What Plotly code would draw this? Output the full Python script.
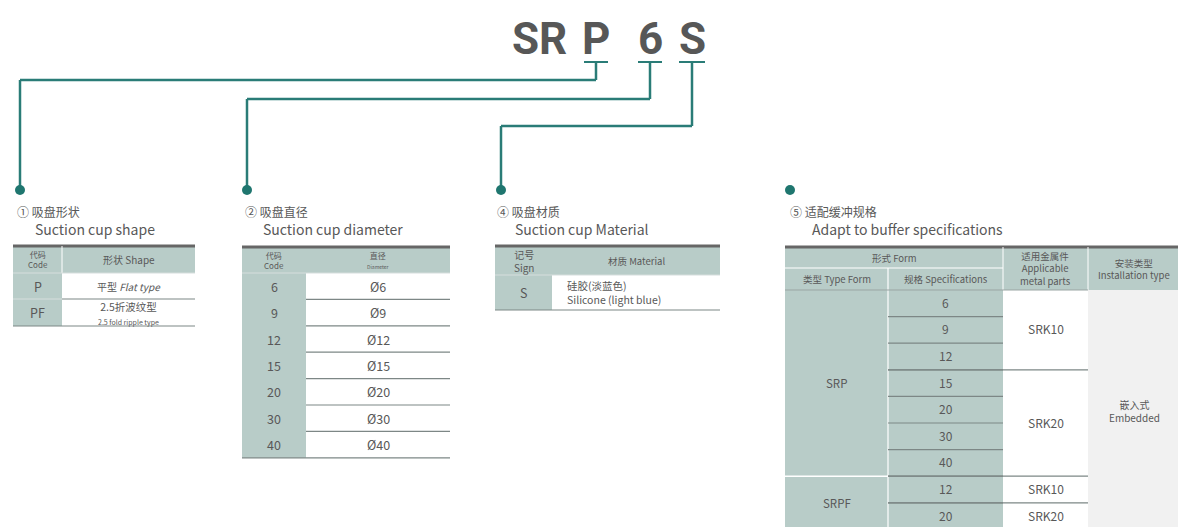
import plotly.graph_objects as go

# ---------------- data ----------------
model_parts = ["SR", "P", "6", "S"]
model_part_x = [539, 596, 650, 692]

shape_codes = ["P", "PF"]
shape_names = ["平型 <i>Flat type</i>",
               "2.5折波纹型<br><span style='font-size:7px'>2.5 fold ripple type</span>"]

diam_codes = ["6", "9", "12", "15", "20", "30", "40"]
diam_labels = ["Ø6", "Ø9", "Ø12", "Ø15", "Ø20", "Ø30", "Ø40"]

material_codes = ["S"]
material_names = ["硅胶(淡蓝色)<br>Silicone (light blue)"]

buffer_types = ["SRP", "SRPF"]
buffer_specs = [["6", "9", "12", "15", "20", "30", "40"], ["12", "20"]]
buffer_parts = [[("SRK10", 3), ("SRK20", 4)], [("SRK10", 1), ("SRK20", 1)]]
install_type = "嵌入式<br>Embedded"

section_titles = [("① 吸盘形状", "Suction cup shape"),
                  ("② 吸盘直径", "Suction cup diameter"),
                  ("④ 吸盘材质", "Suction cup Material"),
                  ("⑤ 适配缓冲规格", "Adapt to buffer specifications")]

# ---------------- style ----------------
W, H = 1178, 527
TEAL = "#2a7c77"
HDR = "#b8ccc8"
TXT = "#585858"
DARK = "#666666"
ROWLINE = "#7d8786"
FONT = "Noto Sans CJK SC"

shapes, ann = [], []


def rect(x0, y0, x1, y1, color):
    shapes.append(dict(type="rect", xref="x", yref="y", x0=x0, y0=y0, x1=x1, y1=y1,
                       fillcolor=color, line=dict(width=0), layer="below"))


def seg(x0, y0, x1, y1, color, w):
    shapes.append(dict(type="line", xref="x", yref="y", x0=x0, y0=y0, x1=x1, y1=y1,
                       line=dict(color=color, width=w)))


def text(x, y, s, size, color=TXT, anchor="center", family=FONT, bold=False):
    if bold:
        s = "<b>" + s + "</b>"
    ann.append(dict(x=x, y=y, xref="x", yref="y", text=s, showarrow=False,
                    xanchor=anchor, yanchor="middle", align=anchor if anchor != "center" else "center",
                    font=dict(size=size, color=color, family=family)))


# ---------------- model code title ----------------
for part, px in zip(model_parts, model_part_x):
    text(px, 39, part, 44, color="#575757", family="Roboto", bold=True)

# connectors
brackets = [(584, 608), (638, 662), (679, 705)]
levels = [80, 99, 126]
dots = [20, 247, 501]
for (bx0, bx1), lv, dx in zip(brackets, levels, dots):
    bc = (bx0 + bx1) / 2
    seg(bx0, 62, bx1, 62, TEAL, 2)
    seg(bc, 62, bc, lv, TEAL, 2.5)
    seg(bc, lv, dx, lv, TEAL, 2.5)
    seg(dx, lv, dx, 190, TEAL, 2.5)
DOT_X = dots + [790]
for dx in DOT_X:
    shapes.append(dict(type="circle", xref="x", yref="y", x0=dx - 5, x1=dx + 5, y0=185, y1=195,
                       fillcolor="#1f766f", line=dict(width=0)))

# section titles
title_x = [15, 243, 495, 788]
for (cn, en), tx in zip(section_titles, title_x):
    text(tx, 211, cn, 12, anchor="left")
    text(tx + 18 + (4 if tx == 788 else 0), 229, en, 14, anchor="left")

# ---------------- table 1: shape ----------------
x0, xc, x1 = 13, 62, 195
ys = [246, 273, 299, 326]
rect(x0, ys[0], x1, ys[1], HDR)
rect(x0, ys[1], xc, ys[-1], HDR)
seg(x0, ys[0], x1, ys[0], DARK, 3)
seg(x0, ys[-1], x1, ys[-1], ROWLINE, 1.2)
seg(xc, ys[0], xc, ys[1], "#ffffff", 1)
seg(x0, ys[1], x1, ys[1], "#d6dedd", 1)
for i in range(1, len(shape_codes)):
    seg(xc, ys[i + 1], x1, ys[i + 1], ROWLINE, 1.2)
    seg(x0, ys[i + 1], xc, ys[i + 1], "#d6dedd", 1)
text((x0 + xc) / 2, (ys[0] + ys[1]) / 2, "代码<br>Code", 8)
text((xc + x1) / 2, (ys[0] + ys[1]) / 2, "形状 Shape", 10)
for i, (c, n) in enumerate(zip(shape_codes, shape_names)):
    yc = (ys[i + 1] + ys[i + 2]) / 2
    text((x0 + xc) / 2, yc, c, 12.5)
    text((xc + x1) / 2, yc, n, 10 if i == 0 else 10.5)

# ---------------- table 2: diameter ----------------
x0, xc, x1 = 242, 306, 450
top, hb, rh = 247, 273, 26.4
ys = [top, hb] + [hb + rh * (i + 1) for i in range(len(diam_codes))]
rect(x0, ys[0], x1, ys[1], HDR)
rect(x0, ys[1], xc, ys[-1], HDR)
seg(x0, top, x1, top, DARK, 3)
seg(x0, ys[-1], x1, ys[-1], ROWLINE, 1.2)
seg(x0, hb, x1, hb, "#d6dedd", 1)
for i in range(len(diam_codes) - 1):
    seg(xc, ys[i + 2], x1, ys[i + 2], ROWLINE, 1.2)
text((x0 + xc) / 2, (top + hb) / 2, "代码<br>Code", 8)
text((xc + x1) / 2, (top + hb) / 2, "直径<br><span style='font-size:5px'>Diameter</span>", 8)
for i, (c, d) in enumerate(zip(diam_codes, diam_labels)):
    yc = (ys[i + 1] + ys[i + 2]) / 2
    text((x0 + xc) / 2, yc, c, 12.5)
    text((xc + x1) / 2, yc, d, 12.5)

# ---------------- table 3: material ----------------
x0, xc, x1 = 495, 552, 720
ys = [246, 275, 310]
rect(x0, ys[0], x1, ys[1], HDR)
rect(x0, ys[1], xc, ys[-1], HDR)
seg(x0, ys[0], x1, ys[0], DARK, 3)
seg(x0, ys[-1], x1, ys[-1], ROWLINE, 1.2)
seg(x0, ys[1], x1, ys[1], "#d6dedd", 1)
text((x0 + xc) / 2, (ys[0] + ys[1]) / 2, "记号<br>Sign", 10)
text((xc + x1) / 2, (ys[0] + ys[1]) / 2, "材质 Material", 9.5)
for i, (c, n) in enumerate(zip(material_codes, material_names)):
    yc = (ys[i + 1] + ys[i + 2]) / 2
    text((x0 + xc) / 2, yc, c, 12.5)
    text(565, yc, n, 10.5, anchor="left")

# ---------------- table 5: buffer ----------------
c0, c1, c2, c3, c4 = 785, 888, 1003, 1088, 1185
top, h1, hb, rh = 247, 268, 290, 26.6
n_rows = sum(len(s) for s in buffer_specs)
ys = [hb + rh * i for i in range(n_rows + 1)]
bottom = ys[-1]
rect(c0, top, c2, bottom, HDR)
rect(c2, top, c4, hb, HDR)
rect(c2, hb, c3, bottom, "#ffffff")
rect(c3, hb, c4, bottom, "#f1f1f1")
seg(c0, top, c4, top, DARK, 3)
seg(c0, h1, c2, h1, "#ffffff", 1.2)
seg(c1, h1, c1, bottom, "#ffffff", 1.2)
seg(c2, top, c2, hb, "#ffffff", 1)
seg(c3, top, c3, hb, "#ffffff", 1)
seg(c0, hb, c3, hb, "#9aa5a3", 1)

text((c0 + c2) / 2, (top + h1) / 2, "形式 Form", 9.5)
text((c0 + c1) / 2, (h1 + hb) / 2, "类型 Type Form", 9.5)
text((c1 + c2) / 2, (h1 + hb) / 2, "规格 Specifications", 9.5)
text((c2 + c3) / 2, (top + hb) / 2, "适用金属件<br>Applicable<br>metal parts", 9.5)
text(c3 + 46, (top + hb) / 2, "安装类型<br>Installation type", 9.5)

r = 0
for t, specs, parts in zip(buffer_types, buffer_specs, buffer_parts):
    ystart = ys[r]
    yend = ys[r + len(specs)]
    text((c0 + c1) / 2, (ystart + yend) / 2, t, 11.5)
    if r > 0:
        seg(c0, ystart, c1, ystart, "#ffffff", 1.5)
    for j, s in enumerate(specs):
        text((c1 + c2) / 2, (ys[r + j] + ys[r + j + 1]) / 2 - 1, s, 12)
        if r + j > 0:
            seg(c1, ys[r + j], c2, ys[r + j], ROWLINE, 1.2)
    k = r
    for name, cnt in parts:
        if k > 0:
            seg(c1, ys[k], c3, ys[k], ROWLINE, 1.2)
        text((c2 + c3) / 2, (ys[k] + ys[k + cnt]) / 2 - 1, name, 12)
        k += cnt
    r += len(specs)
text(c3 + 46, 411, install_type, 10)

fig = go.Figure()
fig.update_layout(
    width=W, height=H, margin=dict(l=0, r=0, t=0, b=0),
    paper_bgcolor="white", plot_bgcolor="white",
    xaxis=dict(range=[0, W], visible=False, fixedrange=True),
    yaxis=dict(range=[H, 0], visible=False, fixedrange=True),
    shapes=shapes, annotations=ann, showlegend=False,
)
fig.write_html("out.html", config={"displayModeBar": False},
               post_script="document.body.style.margin='0px';document.body.style.overflow='hidden';")
